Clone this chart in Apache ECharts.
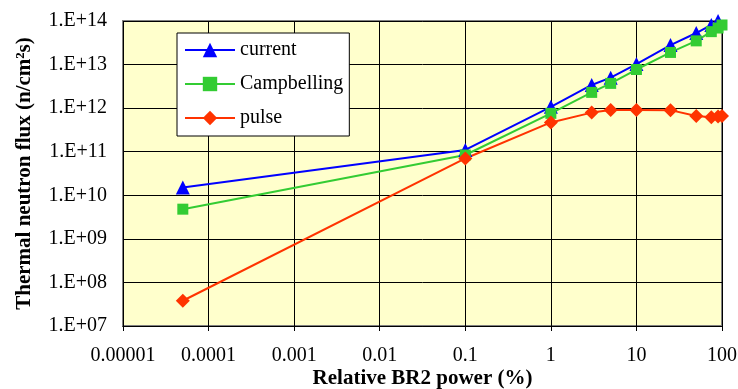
<!DOCTYPE html>
<html>
<head>
<meta charset="utf-8">
<script src="https://cdn.jsdelivr.net/npm/echarts@6/dist/echarts.min.js"></script>
<style>
    html, body { margin: 0; padding: 0; background: #fff; }
    #chart { width: 738px; height: 389px; }
</style>
</head>
<body>
<div id="chart"></div>
<script>
// relative BR2 power (%)
var powerVals = [0.00005, 0.1, 1, 3, 5, 10, 25, 50, 75, 90, 100];
// thermal neutron flux per method
var currentVals = [1.5e10, 1.1e11, 1.07e12, 3.4e12, 5.0e12, 1.03e13, 2.8e13, 5.3e13, 8.1e13, 1.0e14, 1.1e14];
var campbellingVals = [4.8e9, 8.4e10, 7.6e11, 2.3e12, 3.7e12, 7.7e12, 1.9e13, 3.5e13, 5.7e13, 6.9e13, 8.1e13];
var pulseVals = [3.8e7, 7.0e10, 4.7e11, 7.9e11, 9.1e11, 9.1e11, 9.0e11, 6.6e11, 6.2e11, 6.4e11, 6.6e11];

var seriesNames = ['current', 'Campbelling', 'pulse'];

var pairs = function (ys) {
    return powerVals.map(function (x, i) { return [x, ys[i]]; });
};

var fontFam = '"Liberation Serif", "Times New Roman", serif';

var xLabel = function (v) {
    var e = Math.round(Math.log10(v));
    return e < 0 ? Math.pow(10, e).toFixed(-e) : String(Math.pow(10, e));
};
var yLabel = function (v) {
    var e = Math.round(Math.log10(v));
    return '1.E+' + (e < 10 ? '0' + e : e);
};

var myChart = echarts.init(document.getElementById('chart'));

var option = {
    animation: false,
    textStyle: { fontFamily: fontFam },
    grid: {
        left: 123,
        right: 16,
        top: 21,
        bottom: 63,
        outerBoundsMode: 'none',
        containLabel: false,
        show: true,
        backgroundColor: '#FFFFCC',
        borderColor: '#808080',
        borderWidth: 2
    },
    legend: {
        orient: 'vertical',
        left: 177,
        top: 33,
        padding: [7, 6, 8, 7],
        itemWidth: 50,
        itemHeight: 18,
        itemGap: 14,
        backgroundColor: '#fff',
        borderColor: '#000',
        borderWidth: 1,
        textStyle: { fontFamily: fontFam, fontSize: 20, color: '#000', lineHeight: 20 },
        data: seriesNames
    },
    xAxis: {
        type: 'log',
        logBase: 10,
        min: 0.00001,
        max: 100,
        interval: 1,
        name: 'Relative BR2 power (%)',
        nameLocation: 'middle',
        nameGap: 42,
        nameMoveOverlap: false,
        nameTextStyle: { fontFamily: fontFam, fontSize: 21, fontWeight: 'bold', color: '#000' },
        axisLine: { show: true, lineStyle: { color: '#000', width: 1 } },
        axisTick: { show: true, length: 5, lineStyle: { color: '#000' } },
        axisLabel: { fontFamily: fontFam, fontSize: 20, color: '#000', margin: 20, formatter: xLabel },
        splitLine: { show: true, lineStyle: { color: '#000', width: 1 } },
        minorTick: { show: false },
        minorSplitLine: { show: false }
    },
    yAxis: {
        type: 'log',
        logBase: 10,
        min: 1e7,
        max: 1e14,
        interval: 1,
        name: 'Thermal neutron flux (n/cm²s)',
        nameLocation: 'middle',
        nameGap: 88,
        nameMoveOverlap: false,
        nameTextStyle: { fontFamily: fontFam, fontSize: 21, fontWeight: 'bold', color: '#000' },
        axisLine: { show: false },
        axisTick: { show: false },
        axisLabel: { fontFamily: fontFam, fontSize: 20, color: '#000', margin: 16, formatter: yLabel },
        splitLine: { show: true, lineStyle: { color: '#000', width: 1 } }
    },
    series: [
        {
            name: 'current',
            type: 'line',
            data: pairs(currentVals),
            symbol: 'triangle',
            symbolSize: 14,
            lineStyle: { color: '#0000FF', width: 2 },
            itemStyle: { color: '#0000FF' }
        },
        {
            name: 'Campbelling',
            type: 'line',
            data: pairs(campbellingVals),
            symbol: 'rect',
            symbolSize: 11,
            lineStyle: { color: '#33CC33', width: 2 },
            itemStyle: { color: '#33CC33' }
        },
        {
            name: 'pulse',
            type: 'line',
            data: pairs(pulseVals),
            symbol: 'diamond',
            symbolSize: 14,
            lineStyle: { color: '#FF3300', width: 2 },
            itemStyle: { color: '#FF3300' }
        }
    ]
};

myChart.setOption(option);
window.onresize = myChart.resize;
</script>
</body>
</html>
